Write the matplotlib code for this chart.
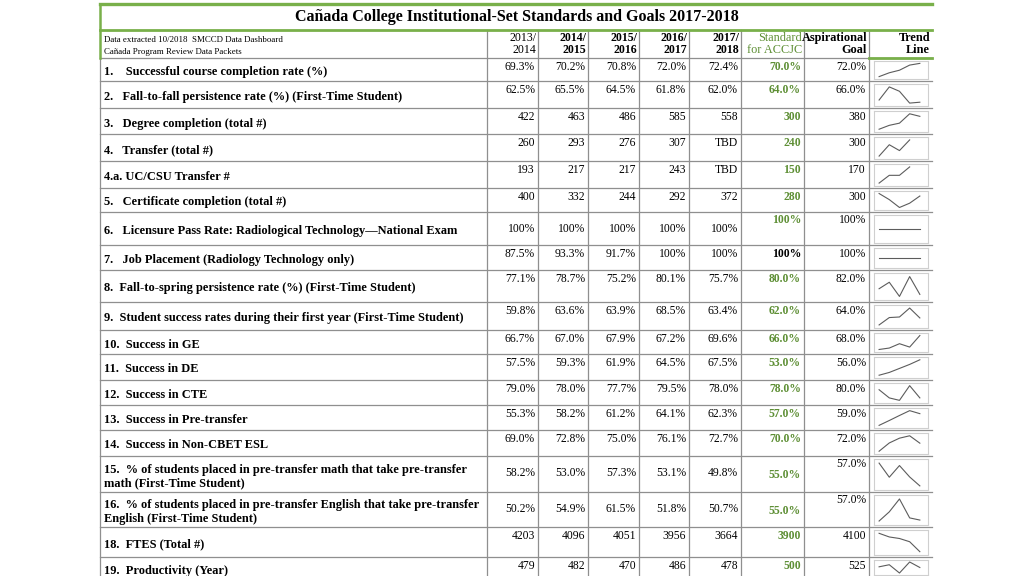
import matplotlib.pyplot as plt
import matplotlib as mpl

plt.rcParams['font.family'] = ['Liberation Serif', 'DejaVu Serif']

# ---- data ----
title = 'Cañada College Institutional-Set Standards and Goals 2017-2018'
source_lines = ['Data extracted 10/2018  SMCCD Data Dashboard',
                'Cañada Program Review Data Packets']
years = ['2013/\n2014', '2014/\n2015', '2015/\n2016', '2016/\n2017', '2017/\n2018']

labels = [
    '1.    Successful course completion rate (%)',
    '2.   Fall-to-fall persistence rate (%) (First-Time Student)',
    '3.   Degree completion (total #)',
    '4.   Transfer (total #)',
    '4.a. UC/CSU Transfer #',
    '5.   Certificate completion (total #)',
    '6.   Licensure Pass Rate: Radiological Technology\u2014National Exam',
    '7.   Job Placement (Radiology Technology only)',
    '8.  Fall-to-spring persistence rate (%) (First-Time Student)',
    '9.  Student success rates during their first year (First-Time Student)',
    '10.  Success in GE',
    '11.  Success in DE',
    '12.  Success in CTE',
    '13.  Success in Pre-transfer',
    '14.  Success in Non-CBET ESL',
    '15.  % of students placed in pre-transfer math that take pre-transfer\nmath (First-Time Student)',
    '16.  % of students placed in pre-transfer English that take pre-transfer\nEnglish (First-Time Student)',
    '18.  FTES (Total #)',
    '19.  Productivity (Year)',
]
is_pct = [True, True, False, False, False, False, True, True, True, True,
          True, True, True, True, True, True, True, False, False]

completion = [69.3, 70.2, 70.8, 72.0, 72.4]
fall_fall = [62.5, 65.5, 64.5, 61.8, 62.0]
degrees = [422, 463, 486, 585, 558]
transfer = [260, 293, 276, 307, None]
uc_csu = [193, 217, 217, 243, None]
certificates = [400, 332, 244, 292, 372]
licensure = [100, 100, 100, 100, 100]
job_place = [87.5, 93.3, 91.7, 100, 100]
fall_spring = [77.1, 78.7, 75.2, 80.1, 75.7]
first_year = [59.8, 63.6, 63.9, 68.5, 63.4]
ge = [66.7, 67.0, 67.9, 67.2, 69.6]
de = [57.5, 59.3, 61.9, 64.5, 67.5]
cte = [79.0, 78.0, 77.7, 79.5, 78.0]
pre_transfer = [55.3, 58.2, 61.2, 64.1, 62.3]
esl = [69.0, 72.8, 75.0, 76.1, 72.7]
math_pt = [58.2, 53.0, 57.3, 53.1, 49.8]
engl_pt = [50.2, 54.9, 61.5, 51.8, 50.7]
ftes = [4203, 4096, 4051, 3956, 3664]
productivity = [479, 482, 470, 486, 478]

series = [completion, fall_fall, degrees, transfer, uc_csu, certificates,
          licensure, job_place, fall_spring, first_year, ge, de, cte,
          pre_transfer, esl, math_pt, engl_pt, ftes, productivity]

standard = [70.0, 64.0, 300, 240, 150, 280, 100, 100, 80.0, 62.0, 66.0,
            53.0, 78.0, 57.0, 70.0, 55.0, 55.0, 3900, 500]
aspirational = [72.0, 66.0, 380, 300, 170, 300, 100, 100, 82.0, 64.0, 68.0,
                56.0, 80.0, 59.0, 72.0, 57.0, 57.0, 4100, 525]

# the trend line drawn for job placement is flat in the source
job_trend = [100, 100, 100, 100, 100]
trends = list(series)
trends[7] = job_trend

# ---- layout (pixels) ----
W, H = 1024, 576
row_edges = [58, 81, 108, 134, 161, 188, 212, 245, 270, 302, 330, 354, 380,
             405, 430, 456, 492, 527, 557, 580]
col_edges = [100, 487, 538, 588, 639, 689, 741, 804, 869, 932]
low_rows = {6, 15, 16}   # year values sit lower in these rows
GREEN = '#79b04a'
GREEN_TXT = '#5e8f35'
GRID = '#8f8f8f'
FS_VAL = 8.4


def fmt(v, pct):
    if v is None:
        return 'TBD'
    if pct:
        return '100%' if v == 100 else '%.1f%%' % v
    return '%d' % v


fig = plt.figure(figsize=(W / 100, H / 100), dpi=100)
ax = fig.add_axes([0, 0, 1, 1])
ax.set_xlim(0, W)
ax.set_ylim(H, 0)
ax.axis('off')

# grid
for y in row_edges[:-1]:
    ax.plot([col_edges[0], col_edges[-1]], [y, y], color=GRID, lw=0.9)
for x in col_edges[1:-1]:
    ax.plot([x, x], [30, H], color=GRID, lw=0.9)
ax.plot([col_edges[0], col_edges[0]], [58, H], color=GRID, lw=0.9)
ax.plot([col_edges[0], col_edges[0]], [4, 58], color=GREEN, lw=1.8)
ax.plot([col_edges[0], col_edges[-1]], [4, 4], color=GREEN, lw=2.4)
ax.plot([col_edges[0], col_edges[-1]], [30, 30], color=GREEN, lw=2.0)
ax.plot([col_edges[-2], col_edges[-1]], [58, 58], color=GREEN, lw=2.0)

# title and header
ax.text(517, 17, title, ha='center', va='center', fontsize=11.5, fontweight='bold')
ax.text(104, 40, source_lines[0], ha='left', va='center', fontsize=6.4)
ax.text(104, 52, source_lines[1], ha='left', va='center', fontsize=6.4)
for j, yr in enumerate(years):
    ax.text(col_edges[j + 2] - 2, 44, yr, ha='right', va='center', fontsize=8.6,
            fontweight='normal' if j == 0 else 'bold', linespacing=1.1)
ax.text(col_edges[7] - 2, 44, 'Standard\nfor ACCJC', ha='right', va='center',
        fontsize=8.8, color=GREEN_TXT, linespacing=1.1)
ax.text(col_edges[8] - 2, 44, 'Aspirational\nGoal', ha='right', va='center',
        fontsize=8.8, fontweight='bold', linespacing=1.1)
ax.text(col_edges[9] - 2, 44, 'Trend\nLine', ha='right', va='center',
        fontsize=8.8, fontweight='bold', linespacing=1.1)

# rows
for i, lab in enumerate(labels):
    top, bot = row_edges[i], row_edges[i + 1]
    mid = (top + bot) / 2
    ax.text(104, mid + 2.5, lab, ha='left', va='center', fontsize=8.9,
            fontweight='bold', linespacing=1.2)
    y_val = top + 17 if i in low_rows else top + 9
    for j, v in enumerate(series[i]):
        ax.text(col_edges[j + 2] - 3, y_val, fmt(v, is_pct[i]), ha='right',
                va='center', fontsize=FS_VAL)
    y_std = top + 19 if i in (15, 16) else top + 8 if i == 6 else top + 9
    ax.text(col_edges[7] - 3, y_std, fmt(standard[i], is_pct[i]), ha='right',
            va='center', fontsize=FS_VAL, fontweight='bold',
            color='black' if i == 7 else GREEN_TXT)
    y_asp = top + 8 if i in low_rows else top + 9
    ax.text(col_edges[8] - 3, y_asp, fmt(aspirational[i], is_pct[i]),
            ha='right', va='center', fontsize=FS_VAL)

    # sparkline
    bx0, bx1 = 874, 928
    by0, by1 = top + 3, min(bot - 2, H - 1)
    sp = fig.add_axes([bx0 / W, 1 - by1 / H, (bx1 - bx0) / W, (by1 - by0) / H])
    pts = [(k, v) for k, v in enumerate(trends[i]) if v is not None]
    xs = [p[0] for p in pts]
    ys = [p[1] for p in pts]
    sp.plot(xs, ys, color='#5c5c5c', lw=0.8)
    lo, hi = min(ys), max(ys)
    if hi == lo:
        sp.set_ylim(lo - 1, hi + 1)
    else:
        pad = (hi - lo) * 0.18
        sp.set_ylim(lo - pad, hi + pad)
    sp.set_xlim(-0.5, 4.8)
    sp.set_xticks([])
    sp.set_yticks([])
    for s in sp.spines.values():
        s.set_color('#cfcfcf')
        s.set_linewidth(0.8)

fig.savefig('out.png', dpi=100)
